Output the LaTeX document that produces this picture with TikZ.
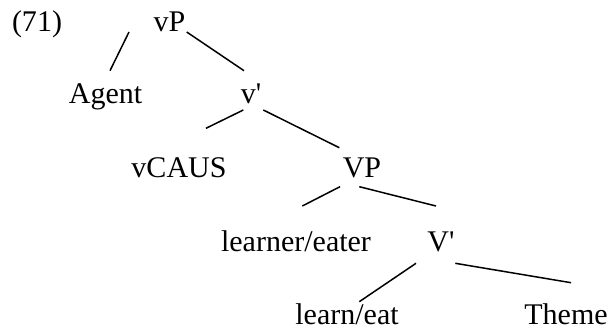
\documentclass[tikz,border=0pt]{standalone}
\usepackage{fontspec}
\setmainfont{Liberation Serif}
\usepackage{tikz}

\begin{document}
\begin{tikzpicture}[x=1pt, y=-1pt,
        lbl/.style={anchor=base, inner sep=0pt, font=\fontsize{30}{36}\selectfont},
        branch/.style={line width=1.5pt}]
        \useasboundingbox (0,0) rectangle (612,331);
        \node [lbl] (num) at (37, 32) {(71)};
        \node [lbl] (vP) at (169.5, 32) {vP};
        \node [lbl] (agent) at (105.5, 104) {Agent};
        \node [lbl] (vbar) at (251, 104) {v\textquotesingle};
        \node [lbl] (vcaus) at (179, 177) {vCAUS};
        \node [lbl] (VP) at (362, 177) {VP};
        \node [lbl] (learner) at (296, 251) {learner/eater};
        \node [lbl] (Vbar) at (441, 251) {V\textquotesingle};
        \node [lbl] (learn) at (347, 324) {learn/eat};
        \node [lbl] (theme) at (566, 324) {Theme};
        \draw [branch] ([xshift=-40.5pt]vP.base) -- ([xshift=4.5pt, yshift=33.3pt]agent.base);
        \draw [branch] ([xshift=17.2pt]vP.base) -- ([xshift=-7pt, yshift=33.3pt]vbar.base);
        \draw [branch] ([xshift=-7.7pt, yshift=-6pt]vbar.base) -- ([xshift=27pt, yshift=48.7pt]vcaus.base);
        \draw [branch] ([xshift=12.3pt, yshift=-6pt]vbar.base) -- ([xshift=-22.7pt, yshift=29.3pt]VP.base);
        \draw [branch] ([xshift=-22pt, yshift=-9.7pt]VP.base) -- ([xshift=6.3pt, yshift=45pt]learner.base);
        \draw [branch] ([xshift=-2.7pt, yshift=-9.7pt]VP.base) -- ([xshift=-5pt, yshift=45pt]Vbar.base);
        \draw [branch] ([xshift=-25pt, yshift=-12.3pt]Vbar.base) -- ([xshift=12.3pt, yshift=22.3pt]learn.base);
        \draw [branch] ([xshift=14.3pt, yshift=-12.3pt]Vbar.base) -- ([xshift=5pt, yshift=41.3pt]theme.base);
    \end{tikzpicture}
\end{document}
